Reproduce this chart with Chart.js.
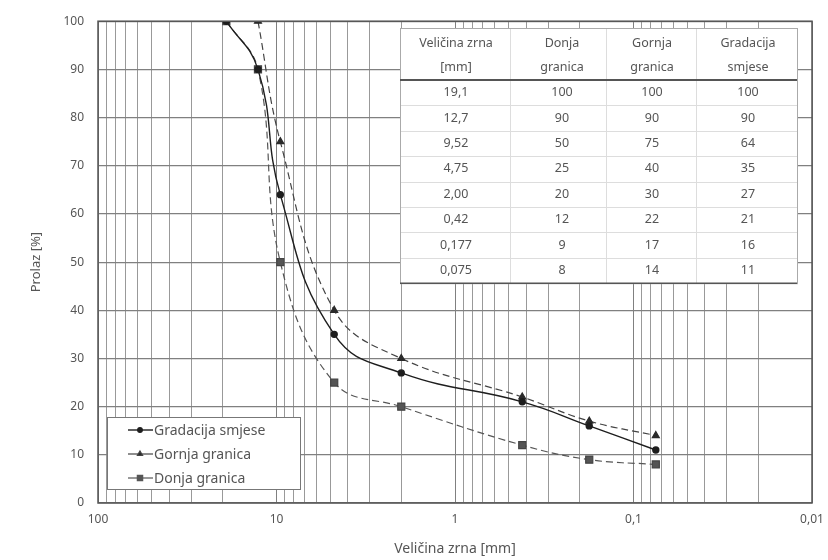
<!DOCTYPE html>
<html>
<head>
<meta charset="utf-8">
<script src="https://cdn.jsdelivr.net/npm/chart.js@4"></script>
<style>
  html, body { margin: 0; padding: 0; background: #fff; }
  #wrap { width: 828px; height: 560px; }
</style>
</head>
<body>
<div id="wrap"><canvas id="chart"></canvas></div>
<script>
// grain size curve (sieve analysis)
// ============================================================

const grainSizes   = [19.1, 12.7, 9.52, 4.75, 2.00, 0.42, 0.177, 0.075];
const gradacija    = [100, 90, 64, 35, 27, 21, 16, 11];
const gornjaPlot   = [null, 100, 75, 40, 30, 22, 17, 14];
const donjaPlot    = [100, 90, 50, 25, 20, 12, 9, 8];

const yTicks       = [0, 10, 20, 30, 40, 50, 60, 70, 80, 90, 100];
const xDecades     = [0.01, 0.1, 1, 10, 100];
const xTickLabels  = { 0.01: '0,01', 0.1: '0,1', 1: '1', 10: '10', 100: '100' };

// table in the upper right corner
const tableHeader  = [['Veličina zrna', '[mm]'], ['Donja', 'granica'], ['Gornja', 'granica'], ['Gradacija', 'smjese']];
const tableSizes   = ['19,1', '12,7', '9,52', '4,75', '2,00', '0,42', '0,177', '0,075'];
const tableDonja   = [100, 90, 50, 25, 20, 12, 9, 8];
const tableGornja  = [100, 90, 75, 40, 30, 22, 17, 14];
const tableGradac  = [100, 90, 64, 35, 27, 21, 16, 11];

const FONT = '"Noto Sans", "DejaVu Sans", sans-serif';
const TEXT = '#555';

function toPoints(vals) {
  const pts = [];
  vals.forEach((v, i) => { if (v !== null) pts.push({ x: grainSizes[i], y: v }); });
  return pts;
}

// frame round the plot area
const framePlugin = {
  id: 'frame',
  afterDatasetsDraw(chart) {
    const a = chart.chartArea, ctx = chart.ctx;
    ctx.save();
    ctx.strokeStyle = '#555';
    ctx.lineWidth = 1.5;
    ctx.strokeRect(a.left, a.top, a.right - a.left, a.bottom - a.top);
    ctx.restore();
  }
};

const tablePlugin = {
  id: 'gradTable',
  afterDraw(chart) {
    const ctx = chart.ctx;
    const x0 = 400, x1 = 797, top = 28, headBottom = 80, rowH = 25.4;
    const colX = [456, 562, 652, 748];
    const bottom = headBottom + rowH * tableSizes.length;
    ctx.save();
    ctx.fillStyle = '#fff';
    ctx.fillRect(x0, top, x1 - x0, bottom - top);

    // faint rules
    ctx.strokeStyle = '#ddd';
    ctx.lineWidth = 1;
    for (let i = 1; i < tableSizes.length; i++) {
      const y = Math.round(headBottom + rowH * i) + 0.5;
      ctx.beginPath(); ctx.moveTo(x0, y); ctx.lineTo(x1, y); ctx.stroke();
    }
    [510, 606, 696].forEach(x => {
      ctx.beginPath(); ctx.moveTo(x + 0.5, top); ctx.lineTo(x + 0.5, bottom); ctx.stroke();
    });
    ctx.strokeStyle = '#aaa';
    ctx.strokeRect(x0 + 0.5, top + 0.5, x1 - x0, bottom - top);
    ctx.strokeStyle = '#555';
    ctx.lineWidth = 2;
    ctx.beginPath(); ctx.moveTo(x0, headBottom); ctx.lineTo(x1, headBottom); ctx.stroke();
    ctx.lineWidth = 1.5;
    ctx.beginPath(); ctx.moveTo(x0, bottom); ctx.lineTo(x1, bottom); ctx.stroke();

    ctx.fillStyle = TEXT;
    ctx.font = '12.5px ' + FONT;
    ctx.textAlign = 'center';
    ctx.textBaseline = 'middle';
    tableHeader.forEach((lines, c) => {
      ctx.fillText(lines[0], colX[c], 43);
      ctx.fillText(lines[1], colX[c], 67);
    });
    const cols = [tableSizes, tableDonja, tableGornja, tableGradac];
    for (let r = 0; r < tableSizes.length; r++) {
      const y = headBottom + rowH * (r + 0.5);
      cols.forEach((col, c) => ctx.fillText(String(col[r]), colX[c], y));
    }
    ctx.restore();
  }
};

const legendPlugin = {
  id: 'boxLegend',
  afterDraw(chart) {
    const ctx = chart.ctx;
    const bx = 107, by = 417, bw = 193, bh = 72;
    ctx.save();
    ctx.fillStyle = '#fff';
    ctx.fillRect(bx, by, bw, bh);
    ctx.strokeStyle = '#777';
    ctx.lineWidth = 1;
    ctx.strokeRect(bx + 0.5, by + 0.5, bw, bh);
    ctx.font = '14px ' + FONT;
    ctx.textBaseline = 'middle';
    ctx.textAlign = 'left';
    chart.data.datasets.forEach((ds, i) => {
      const y = by + 13 + i * 24;
      ctx.strokeStyle = ds.borderColor;
      ctx.lineWidth = ds.borderWidth;
      ctx.setLineDash([]);
      ctx.beginPath(); ctx.moveTo(bx + 21, y); ctx.lineTo(bx + 46, y); ctx.stroke();
      ctx.fillStyle = ds.pointBackgroundColor;
      Chart.helpers.drawPoint(ctx, {
        pointStyle: ds.pointStyle, radius: ds.pointRadius * 0.75, borderWidth: 1, rotation: 0
      }, bx + 33, y);
      ctx.fillStyle = TEXT;
      ctx.fillText(ds.label, bx + 47, y + 1);
    });
    ctx.restore();
  }
};

new Chart(document.getElementById('chart'), {
  type: 'line',
  data: {
    datasets: [
      {
        label: 'Gradacija smjese',
        data: toPoints(gradacija),
        borderColor: '#1e1e1e',
        borderWidth: 1.4,
        pointStyle: 'circle',
        pointRadius: 3,
        pointBackgroundColor: '#1e1e1e',
        pointBorderColor: '#1e1e1e',
        tension: 0.45
      },
      {
        label: 'Gornja granica',
        data: toPoints(gornjaPlot),
        borderColor: '#444',
        borderWidth: 1.2,
        borderDash: [7, 4],
        pointStyle: 'triangle',
        pointRadius: 4,
        pointBackgroundColor: '#2a2a2a',
        pointBorderColor: '#2a2a2a',
        tension: 0.4
      },
      {
        label: 'Donja granica',
        data: toPoints(donjaPlot),
        borderColor: '#555',
        borderWidth: 1.2,
        borderDash: [7, 4],
        pointStyle: 'rect',
        pointRadius: 5,
        pointBackgroundColor: '#555',
        pointBorderColor: '#444',
        tension: 0.4
      }
    ]
  },
  options: {
    responsive: true,
    maintainAspectRatio: false,
    animation: false,
    layout: { padding: { top: 18, right: 16, left: 20, bottom: 0 } },
    plugins: { legend: { display: false }, tooltip: { enabled: false } },
    scales: {
      x: {
        type: 'logarithmic',
        reverse: true,
        min: 0.01,
        max: 100,
        afterBuildTicks: scale => {
          const ticks = [];
          xDecades.forEach(d => {
            for (let m = 1; m <= 9; m++) {
              const v = +(d * m).toPrecision(3);
              if (v <= 100) ticks.push({ value: v, major: m === 1 });
            }
          });
          scale.ticks = ticks;
        },
        afterFit: scale => { scale.height = 57; },
        ticks: {
          autoSkip: false,
          maxRotation: 0,
          padding: 9,
          color: TEXT,
          font: { family: FONT, size: 12 },
          callback: v => xTickLabels[v] || ''
        },
        grid: {
          drawTicks: false,
          color: ctx => (ctx.tick && xTickLabels[ctx.tick.value] ? '#808080' : '#999'),
          lineWidth: 1
        },
        border: { display: false },
        title: {
          display: true,
          text: 'Veličina zrna [mm]',
          color: TEXT,
          font: { family: FONT, size: 14 },
          padding: { top: 0, bottom: 3 }
        }
      },
      y: {
        min: 0,
        max: 100,
        afterBuildTicks: scale => { scale.ticks = yTicks.map(v => ({ value: v })); },
        afterFit: scale => { scale.width = 78; },
        ticks: {
          padding: 14,
          color: TEXT,
          font: { family: FONT, size: 12 }
        },
        grid: { drawTicks: false, color: '#808080', lineWidth: 1.2 },
        border: { display: false },
        title: {
          display: true,
          text: 'Prolaz [%]',
          color: TEXT,
          font: { family: FONT, size: 13 },
          padding: { top: 8, bottom: 0 }
        }
      }
    }
  },
  plugins: [framePlugin, tablePlugin, legendPlugin]
});
</script>
</body>
</html>
